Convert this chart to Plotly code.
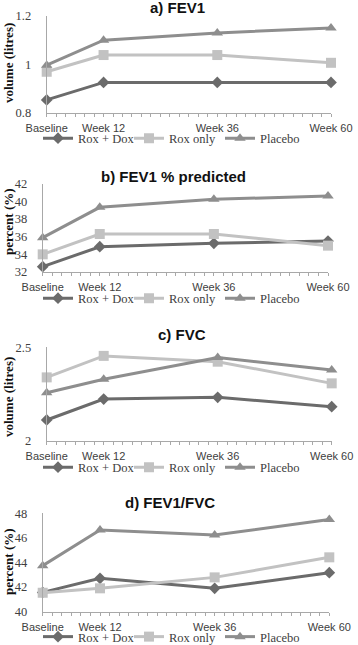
import plotly.graph_objects as go

W, H = 358, 645

weeks = [0, 12, 36, 60]
week_labels = ["Baseline", "Week 12", "Week 36", "Week 60"]
series_names = ["Rox + Dox", "Rox only", "Placebo"]

fev1_rox_dox = [0.854, 0.926, 0.926, 0.926]
fev1_rox_only = [0.970, 1.039, 1.039, 1.007]
fev1_placebo = [0.997, 1.100, 1.130, 1.151]

fev1pp_rox_dox = [32.57, 34.85, 35.23, 35.50]
fev1pp_rox_only = [33.98, 36.30, 36.30, 34.97]
fev1pp_placebo = [35.88, 39.34, 40.25, 40.63]

fvc_rox_dox = [2.111, 2.223, 2.232, 2.182]
fvc_rox_only = [2.339, 2.454, 2.423, 2.307]
fvc_placebo = [2.257, 2.329, 2.445, 2.379]

ratio_rox_dox = [41.57, 42.71, 41.90, 43.17]
ratio_rox_only = [41.54, 41.90, 42.79, 44.42]
ratio_placebo = [43.74, 46.64, 46.23, 47.50]

panels = [
    dict(title="a) FEV1", ylab="volume (litres)", data=[fev1_rox_dox, fev1_rox_only, fev1_placebo],
         yr=[0.8, 1.2], dt=0.2, px=(46.7, 331), py=(16, 113), tx=177, ty=7, lx=8, ly=63, legy=138.5),
    dict(title="b) FEV1 % predicted", ylab="percent (%)", data=[fev1pp_rox_dox, fev1pp_rox_only, fev1pp_placebo],
         yr=[32, 42], dt=2, px=(42.7, 328), py=(184, 271.7), tx=173, ty=176, lx=8, ly=222, legy=298.5),
    dict(title="c) FVC", ylab="volume (litres)", data=[fvc_rox_dox, fvc_rox_only, fvc_placebo],
         yr=[2, 2.5], dt=0.5, px=(46.7, 331.7), py=(347.3, 440.7), tx=182, ty=334, lx=8, ly=397, legy=467.5),
    dict(title="d) FEV1/FVC", ylab="percent (%)", data=[ratio_rox_dox, ratio_rox_only, ratio_placebo],
         yr=[40, 48], dt=2, px=(42.7, 329.3), py=(513.3, 611.7), tx=170, ty=502.5, lx=8, ly=562, legy=637),
]

colors = ["#6b6b6b", "#c2c2c2", "#8e8e8e"]
symbols = ["diamond", "square", "triangle-up"]
msizes = [9, 10, 10]

axis_col = "#a8a8a8"
tick_font = dict(family="Liberation Sans, Arial, sans-serif", size=11, color="#404040")
ytick_font = dict(family="Liberation Serif, Times New Roman, serif", size=12.5, color="#404040")
leg_font = dict(family="Liberation Serif, Times New Roman, serif", size=12.5, color="#404040")

fig = go.Figure()
layout = dict(width=W, height=H, margin=dict(l=0, r=0, t=0, b=0, autoexpand=False),
              paper_bgcolor="white", plot_bgcolor="white", autosize=False)
annotations = []

for i, p in enumerate(panels):
    n = "" if i == 0 else str(i + 1)
    xa, ya = "x" + n, "y" + n
    legname = "legend" + n
    for j in range(3):
        fig.add_trace(go.Scatter(
            x=weeks, y=p["data"][j], name=series_names[j], mode="lines+markers",
            line=dict(color=colors[j], width=3),
            marker=dict(symbol=symbols[j], size=msizes[j], color=colors[j]),
            xaxis=xa, yaxis=ya, legend=legname, cliponaxis=False,
        ))
    layout["xaxis" + n] = dict(
        domain=[p["px"][0] / W, p["px"][1] / W], anchor=ya, range=[0, 60],
        tickmode="array", tickvals=weeks, ticktext=week_labels,
        showline=True, linecolor=axis_col, linewidth=1, showgrid=False, zeroline=False,
        ticks="outside", ticklen=3, tickcolor=axis_col, tickfont=tick_font, ticklabelstandoff=2,
        minor=dict(tick0=0, dtick=2, ticks="outside", ticklen=3, tickcolor=axis_col, showgrid=False),
        fixedrange=True, automargin=False,
    )
    layout["yaxis" + n] = dict(
        domain=[1 - p["py"][1] / H, 1 - p["py"][0] / H], anchor=xa, range=p["yr"],
        tickmode="linear", tick0=p["yr"][0], dtick=p["dt"],
        showline=True, linecolor=axis_col, linewidth=1, showgrid=False, zeroline=False,
        ticks="", tickfont=ytick_font, ticklabelstandoff=12, fixedrange=True, automargin=False,
    )
    layout[legname] = dict(
        orientation="h", x=38 / W, xanchor="left", y=1 - p["legy"] / H, yanchor="middle",
        font=leg_font, bgcolor="rgba(0,0,0,0)", itemwidth=30, tracegroupgap=0,
        entrywidth=46, entrywidthmode="pixels",
    )
    annotations.append(dict(
        text="<b>" + p["title"] + "</b>", x=p["tx"] / W, y=1 - p["ty"] / H, xref="paper", yref="paper",
        showarrow=False, xanchor="center", yanchor="middle",
        font=dict(family="Liberation Sans, Arial, sans-serif", size=15, color="#111111"),
    ))
    annotations.append(dict(
        text="<b>" + p["ylab"] + "</b>", x=p["lx"] / W, y=1 - p["ly"] / H, xref="paper", yref="paper",
        showarrow=False, xanchor="center", yanchor="middle", textangle=-90,
        font=dict(family="Liberation Serif, Times New Roman, serif", size=13, color="#111111"),
    ))

layout["annotations"] = annotations
layout["showlegend"] = True
fig.update_layout(**layout)
fig.write_html("out.html", config={"displayModeBar": False},
               post_script="document.body.style.margin='0';document.body.style.padding='0';")
